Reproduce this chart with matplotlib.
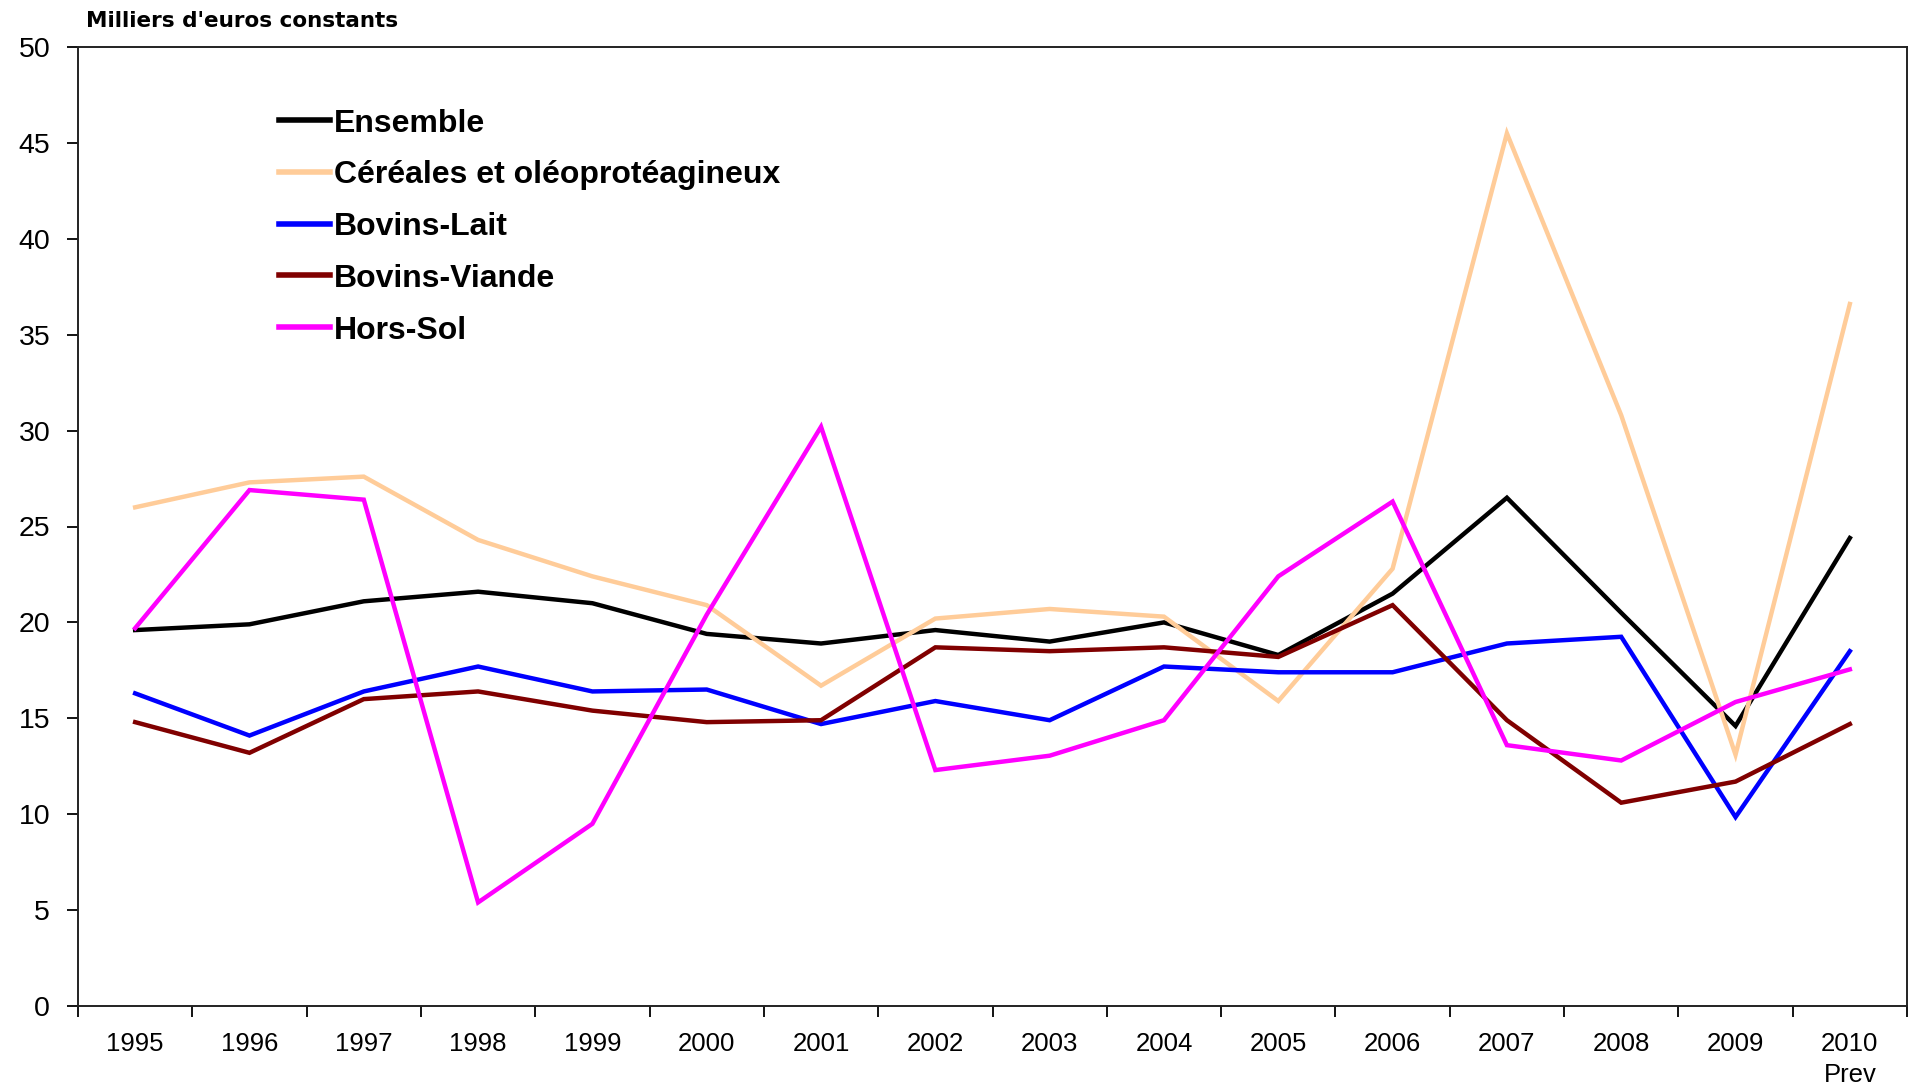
import matplotlib
matplotlib.use('Agg')
import matplotlib.pyplot as plt
import numpy as np

plt.rcParams['font.family'] = ['Liberation Sans', 'DejaVu Sans']

years = ['1995', '1996', '1997', '1998', '1999', '2000', '2001', '2002',
         '2003', '2004', '2005', '2006', '2007', '2008', '2009', '2010\nPrev']

ensemble = [19.6, 19.9, 21.1, 21.6, 21.0, 19.4, 18.9, 19.6,
            19.0, 20.0, 18.3, 21.5, 26.5, 20.5, 14.6, 24.4]
cereales = [26.0, 27.3, 27.6, 24.3, 22.4, 20.9, 16.7, 20.2,
            20.7, 20.3, 15.9, 22.8, 45.5, 30.8, 13.1, 36.6]
bovins_lait = [16.3, 14.1, 16.4, 17.7, 16.4, 16.5, 14.7, 15.9,
               14.9, 17.7, 17.4, 17.4, 18.9, 19.25, 9.85, 18.5]
bovins_viande = [14.8, 13.2, 16.0, 16.4, 15.4, 14.8, 14.9, 18.7,
                 18.5, 18.7, 18.2, 20.9, 14.9, 10.6, 11.7, 14.7]
hors_sol = [19.7, 26.9, 26.4, 5.4, 9.5, 20.4, 30.2, 12.3,
            13.05, 14.9, 22.4, 26.3, 13.6, 12.8, 15.85, 17.55]

series = [
    ('Ensemble', ensemble, '#000000'),
    ('Céréales et oléoprotéagineux', cereales, '#FFCC99'),
    ('Bovins-Lait', bovins_lait, '#0000FF'),
    ('Bovins-Viande', bovins_viande, '#800000'),
    ('Hors-Sol', hors_sol, '#FF00FF'),
]

W, H = 1919, 1091
fig = plt.figure(figsize=(W / 100, H / 100), dpi=100)
ax = fig.add_axes([78 / W, 1 - 1006 / H, 1829 / W, 959 / H])

x = np.arange(len(years))
for name, vals, col in series:
    ax.plot(x, vals, color=col, linewidth=3.2, solid_joinstyle='miter')

ax.set_xlim(-0.5, len(years) - 0.5)
ax.set_ylim(0, 50)
ax.set_yticks(np.arange(0, 51, 5))
ax.tick_params(axis='y', labelsize=20.5, length=8, width=1.3, pad=12)

# labels centred on categories, ticks on the boundaries
ax.set_xticks(x)
ax.set_xticklabels(years, fontsize=18.5, linespacing=1.35, va='top')
ax.set_xticks(np.arange(-0.5, len(years), 1), minor=True)
ax.tick_params(axis='x', which='major', length=0, pad=19)
ax.tick_params(axis='x', which='minor', length=8, width=1.3)

for s in ax.spines.values():
    s.set_linewidth(1.4)
    s.set_color('#222222')

# legend drawn by hand, in figure pixels
tr = fig.transFigure
for i, (name, vals, col) in enumerate(series):
    yy = 1 - (120 + i * 51.8) / H
    fig.add_artist(plt.Line2D([279 / W, 330 / W], [yy, yy], color=col,
                              linewidth=4, transform=tr))
    fig.text(334 / W, yy, name, fontsize=23, fontweight='bold',
             va='center_baseline', ha='left')

fig.text(86 / W, 1 - 11 / H, "Milliers d'euros constants", fontsize=15.5,
         fontweight='bold', family='DejaVu Sans', va='top', ha='left')

fig.savefig('out.png', dpi=100)
plt.close(fig)
